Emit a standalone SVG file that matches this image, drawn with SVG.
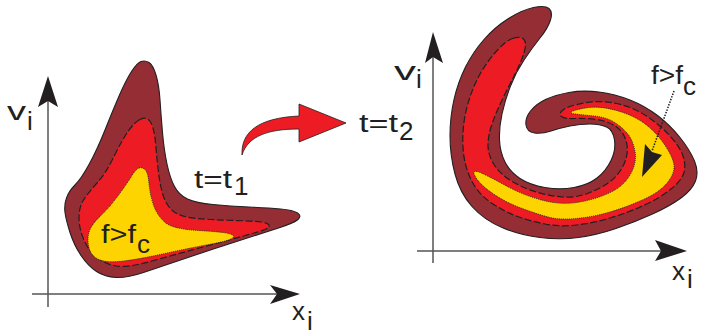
<svg xmlns="http://www.w3.org/2000/svg" width="701" height="335" viewBox="0 0 701 335">
<style>
.dark{fill:#952d35;stroke:#231f20;stroke-width:1.1}
.mid{fill:#ed1c24;stroke:#231f20;stroke-width:1.2;stroke-dasharray:7 2.5}
.core{fill:#fdd400;stroke:#231f20;stroke-width:1;stroke-dasharray:1 1}
.axis{stroke:#555;stroke-width:1.5;fill:none}
.head{fill:#231f20}
text{font-family:"Liberation Sans",Arial,sans-serif;font-size:26px;fill:#231f20}
</style>
<rect width="701" height="335" fill="#fff"/>

<g id="left-plot">
  <g id="left-axes">
    <line class="axis" x1="48" y1="307" x2="48" y2="100"/>
    <polygon class="head" points="48,76 58,107 48,101 38,107"/>
    <line class="axis" x1="32" y1="294" x2="278" y2="294"/>
    <polygon class="head" points="300,294 270,304 277,294 270,285"/>
    <text x="7" y="120" textLength="19" lengthAdjust="spacingAndGlyphs">v</text>
    <text x="27" y="130">i</text>
    <text x="292" y="320">x</text>
    <text x="307" y="330">i</text>
  </g>
  <g id="left-blob">
    <path class="dark" d="M141,61.5 Q145,60 149,62.5 Q153,65 156,75 Q159,85 160,100 Q161,115 162.5,132.5 Q164,150 167,164 Q170,178 174.5,186.5 Q179,195 187.5,199 Q196,203 213,204.5 Q230,206 249,207 Q268,208 280.5,209 Q293,210 297.5,213 Q302,216 298,219.5 Q294,223 277,228.5 Q260,234 235,242 Q210,250 185,258.5 Q160,267 143.5,272.5 Q127,278 116,277.5 Q105,277 96.5,271.5 Q88,266 81,255.5 Q74,245 70,232.5 Q66,220 65,212.5 Q64,205 66.5,198 Q69,191 75,185 Q81,179 89,164.5 Q97,150 105,130 Q113,110 119.5,95 Q126,80 131.5,71.5 Q137,63 141,61.5 Z"/>
    <path class="mid" d="M139,120 Q144,117 147.5,119 Q151,121 153,128 Q155,135 156,147.5 Q157,160 158.5,172.5 Q160,185 163,195 Q166,205 173,211 Q180,217 197.5,218.5 Q215,220 235,220.5 Q255,221 261.5,222 Q268,223 269,225 Q270,227 266,229 Q262,231 243.5,236 Q225,241 201,247.5 Q177,254 152,261 Q127,268 116,266 Q105,264 96.5,257 Q88,250 83.5,239 Q79,228 79,217.5 Q79,207 83.5,200 Q88,193 97,183 Q106,173 114,156.5 Q122,140 128,131.5 Q134,123 139,120 Z"/>
    <path class="core" d="M139,168 Q142,167 145,169.5 Q148,172 149,183.5 Q150,195 153.5,205 Q157,215 164.5,222 Q172,229 198.5,230.5 Q225,232 230.5,234 Q236,236 232,238.5 Q228,241 209,244.5 Q190,248 165,253.5 Q140,259 124,261 Q108,263 100,260 Q92,257 89.5,249.5 Q87,242 88.5,234 Q90,226 100,216.5 Q110,207 119,194.5 Q128,182 132,175.5 Q136,169 139,168 Z"/>
    <text x="101" y="243" textLength="35" lengthAdjust="spacingAndGlyphs">f&gt;f</text>
    <text x="137" y="253">c</text>
  </g>
  <g id="label-t1">
    <text x="194" y="188" textLength="38" lengthAdjust="spacingAndGlyphs">t=t</text>
    <text x="234" y="195">1</text>
  </g>
</g>

<g id="connectors">
  <path d="M242,155 C241,132 258,118 299,116 L299,104 L346,123 L299,142 L299,129 C268,129 248,136 242,155 Z" fill="#ed1c24" stroke="#231f20" stroke-width="0.8"/>
</g>

<g id="right-plot">
  <g id="right-axes">
    <line class="axis" x1="433" y1="263" x2="433" y2="56"/>
    <polygon class="head" points="433,32 443,63 433,57 425,63"/>
    <line class="axis" x1="417" y1="251" x2="662" y2="251"/>
    <polygon class="head" points="687,251 655,261 661,251 655,240"/>
    <text x="394" y="80" textLength="22" lengthAdjust="spacingAndGlyphs">v</text>
    <text x="416" y="88">i</text>
    <text x="672" y="280">x</text>
    <text x="687" y="288">i</text>
  </g>
  <g id="right-blob">
    <path class="dark" d="M533.5,7.5 Q545,5 549,8.5 Q553,12 550.5,20 Q548,28 540,38 Q532,48 524,60 Q516,72 510.5,86 Q505,100 502,114 Q499,128 499.5,140 Q500,152 505,162 Q510,172 520,178.5 Q530,185 545,187.5 Q560,190 574,187.5 Q588,185 597,178 Q606,171 611,160.5 Q616,150 614.5,140 Q613,130 606.5,127 Q600,124 590,124 Q580,124 570,126 Q560,128 551,131 Q542,134 534.5,133 Q527,132 526,125 Q525,118 530.5,111 Q536,104 545.5,99.5 Q555,95 569,92.5 Q583,90 599,92 Q615,94 630,100 Q645,106 657.5,115.5 Q670,125 680,137.5 Q690,150 694.5,161 Q699,172 695.5,181 Q692,190 681,198 Q670,206 652.5,214 Q635,222 616,228.5 Q597,235 578.5,237.5 Q560,240 540,237.5 Q520,235 502,227.5 Q484,220 472,206.5 Q460,193 455,174 Q450,155 450,136 Q450,117 454,99.5 Q458,82 465.5,67 Q473,52 484,39.5 Q495,27 508.5,18.5 Q522,10 533.5,7.5 Z"/>
    <path class="mid" d="M512.5,38.5 Q520,36 523.5,39 Q527,42 524.5,51 Q522,60 516,72 Q510,84 503.5,97 Q497,110 492.5,122.5 Q488,135 488,145 Q488,155 494,164.5 Q500,174 511.5,181 Q523,188 536.5,192 Q550,196 562.5,197 Q575,198 587.5,193.5 Q600,189 609.5,182 Q619,175 624,164 Q629,153 626.5,142.5 Q624,132 616,126.5 Q608,121 596.5,119.5 Q585,118 575,118.5 Q565,119 561.5,116.5 Q558,114 563,110 Q568,106 584,103 Q600,100 616.5,103.5 Q633,107 646.5,116 Q660,125 670,136 Q680,147 683,156 Q686,165 684,172.5 Q682,180 671,189 Q660,198 643.5,205.5 Q627,213 610,218 Q593,223 576.5,225 Q560,227 545,224 Q530,221 517.5,216.5 Q505,212 491.5,203 Q478,194 471,179.5 Q464,165 463,147.5 Q462,130 465.5,113.5 Q469,97 476,82 Q483,67 494,54 Q505,41 512.5,38.5 Z"/>
    <path class="core" d="M474,172 Q475,170 482.5,173.5 Q490,177 506.5,186 Q523,195 541.5,200 Q560,205 576.5,202.5 Q593,200 608,193.5 Q623,187 630,175 Q637,163 635,151.5 Q633,140 627,133 Q621,126 613,121.5 Q605,117 594,116 Q583,115 575.5,114 Q568,113 573,111 Q578,109 589,107.5 Q600,106 616.5,110.5 Q633,115 644.5,123.5 Q656,132 664.5,144.5 Q673,157 674,165 Q675,173 667.5,182.5 Q660,192 643.5,199.5 Q627,207 610,212 Q593,217 576.5,218.5 Q560,220 550,217.5 Q540,215 523.5,209 Q507,203 495,195 Q483,187 478,180.5 Q473,174 474,172 Z"/>
  </g>
  <g id="label-fc">
    <line x1="674" y1="91" x2="652" y2="151" stroke="#231f20" stroke-width="1.6" stroke-dasharray="1.4 1.4"/>
    <polygon class="head" points="642,177 645,144 652,152 662,155"/>
    <text x="651" y="84" textLength="32" lengthAdjust="spacingAndGlyphs">f&gt;f</text>
    <text x="683" y="95">c</text>
  </g>
  <g id="label-t2">
    <text x="359" y="132" textLength="39" lengthAdjust="spacingAndGlyphs">t=t</text>
    <text x="399" y="140">2</text>
  </g>
</g>
</svg>
